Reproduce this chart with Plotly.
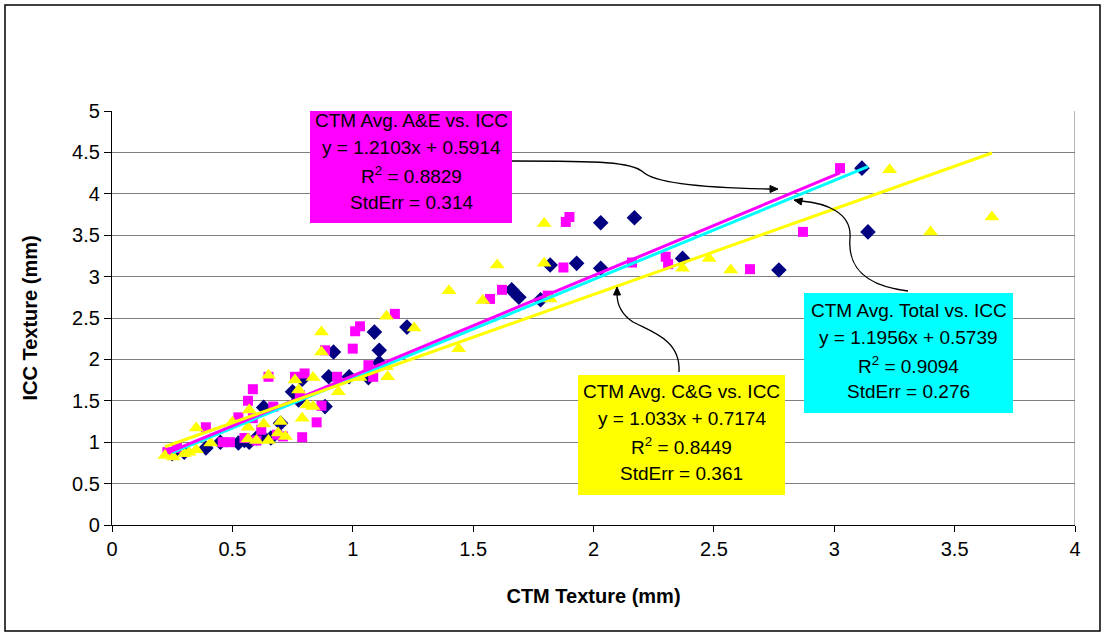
import math
import plotly.graph_objects as go

# ---------------- data ----------------
# CTM Avg. Total vs. ICC (navy diamonds, cyan trendline)
total_x = [0.25, 0.30, 0.39, 0.45, 0.525, 0.55, 0.57, 0.60, 0.62, 0.63, 0.66, 0.70, 0.75, 0.775, 0.79,
           0.885, 0.90, 0.92, 0.985, 1.065, 1.09, 1.11, 1.11, 1.225, 1.66, 1.69, 1.78, 1.82, 1.93,
           2.03, 2.03, 2.17, 2.37, 2.77, 3.115, 3.14]
total_y = [0.86, 0.88, 0.93, 1.00, 0.99, 1.02, 1.00, 1.05, 1.08, 1.42, 1.05, 1.23, 1.61, 1.51, 1.76,
           1.43, 1.79, 2.09, 1.79, 1.78, 2.33, 2.11, 1.96, 2.39, 2.84, 2.75, 2.72, 3.14, 3.16,
           3.10, 3.65, 3.71, 3.22, 3.08, 4.31, 3.54]

# CTM Avg. A&E vs. ICC (magenta squares, magenta trendline)
ae_x = [0.23, 0.27, 0.39, 0.46, 0.49, 0.525, 0.55, 0.565, 0.585, 0.585, 0.60, 0.62, 0.65, 0.67,
        0.685, 0.71, 0.76, 0.78, 0.79, 0.80, 0.85, 0.87, 0.885, 0.935, 1.00, 1.01, 1.03, 1.065,
        1.085, 1.175, 1.57, 1.62, 1.81, 1.875, 1.885, 1.90, 2.16, 2.30, 2.31, 2.65, 2.87, 3.024]
ae_y = [0.88, 0.93, 1.18, 1.00, 1.00, 1.30, 1.05, 1.50, 1.64, 1.29, 1.02, 1.15, 1.79, 1.43,
        1.09, 1.07, 1.79, 1.57, 1.06, 1.83, 1.24, 1.44, 2.11, 1.79, 2.13, 2.34, 2.40, 1.93,
        1.79, 2.55, 2.73, 2.84, 2.77, 3.11, 3.66, 3.72, 3.17, 3.24, 3.15, 3.09, 3.54, 4.31]

# CTM Avg. C&G vs. ICC (yellow triangles, yellow trendline)
cg_x = [0.22, 0.255, 0.30, 0.32, 0.35, 0.35, 0.41, 0.50, 0.565, 0.565, 0.57, 0.60, 0.63, 0.65,
        0.65, 0.69, 0.70, 0.72, 0.76, 0.775, 0.79, 0.81, 0.835, 0.835, 0.87, 0.87, 0.94, 1.03,
        1.14, 1.145, 1.14, 1.255, 1.40, 1.44, 1.54, 1.60, 1.795, 1.795, 1.82, 2.37, 2.48, 2.57,
        3.23, 3.40, 3.655]
cg_y = [0.84, 0.82, 0.86, 0.88, 0.91, 1.17, 0.99, 1.24, 1.18, 1.04, 1.39, 1.02, 1.22, 1.02,
        1.81, 1.11, 1.25, 1.07, 1.75, 1.63, 1.29, 1.45, 1.43, 1.78, 2.33, 2.09, 1.61, 1.78,
        1.91, 1.79, 2.52, 2.38, 2.83, 2.13, 2.71, 3.14, 3.64, 3.16, 2.73, 3.10, 3.22, 3.08,
        4.29, 3.54, 3.72]

# trendline equations (from the chart's labels)
total_slope, total_intercept = 1.1956, 0.5739
ae_slope, ae_intercept = 1.2103, 0.5914
cg_slope, cg_intercept = 1.033, 0.7174

x_tick_vals = [0, 0.5, 1, 1.5, 2, 2.5, 3, 3.5, 4]
x_tick_text = ["0", "0.5", "1", "1.5", "2", "2.5", "3", "3.5", "4"]
y_tick_vals = [0, 0.5, 1, 1.5, 2, 2.5, 3, 3.5, 4, 4.5, 5]
y_tick_text = ["0", "0.5", "1", "1.5", "2", "2.5", "3", "3.5", "4", "4.5", "5"]

ae_label = ["CTM Avg. A&E vs. ICC", "y = 1.2103x + 0.5914", "R<sup>2</sup> = 0.8829", "StdErr = 0.314"]
total_label = ["CTM Avg. Total vs. ICC", "y = 1.1956x + 0.5739", "R<sup>2</sup> = 0.9094", "StdErr = 0.276"]
cg_label = ["CTM Avg. C&G vs. ICC", "y = 1.033x + 0.7174", "R<sup>2</sup> = 0.8449", "StdErr = 0.361"]

# ---------------- layout geometry ----------------
W, H = 1104, 633
L, R, T, B = 112, 1075, 111, 525
FONT = "Liberation Sans, Arial, sans-serif"


def dx(px):
    return (px - L) / (R - L) * 4.0


def dy(py):
    return (B - py) / (B - T) * 5.0


def px_x(px):
    return (px - L) / (R - L)


def px_y(py):
    return (B - py) / (B - T)


fig = go.Figure()

fig.add_trace(go.Scatter(x=total_x, y=total_y, mode="markers", name="Total",
                         marker=dict(symbol="diamond", size=12, color="#000080", line=dict(width=0))))
fig.add_trace(go.Scatter(x=ae_x, y=ae_y, mode="markers", name="A&E",
                         marker=dict(symbol="square", size=10, color="#FF00FF", line=dict(width=0))))
fig.add_trace(go.Scatter(x=cg_x, y=cg_y, mode="markers", name="C&G",
                         marker=dict(symbol="triangle-up", size=13, color="#FFFF00", line=dict(width=0))))


def trend(xs, m, b):
    x0, x1 = min(xs), max(xs)
    return [x0, x1], [m * x0 + b, m * x1 + b]


for xs, m, b, col in [(total_x, total_slope, total_intercept, "#00FFFF"),
                      (ae_x, ae_slope, ae_intercept, "#FF00FF"),
                      (cg_x, cg_slope, cg_intercept, "#FFFF00")]:
    tx, ty = trend(xs, m, b)
    fig.add_trace(go.Scatter(x=tx, y=ty, mode="lines", line=dict(color=col, width=3),
                             hoverinfo="skip"))

shapes = []
# outer chart frame
shapes.append(dict(type="rect", xref="paper", yref="paper",
                   x0=px_x(5), x1=px_x(1100), y0=px_y(631), y1=px_y(5),
                   line=dict(color="black", width=1.5), fillcolor="rgba(0,0,0,0)", layer="below"))
# plot-area right border
shapes.append(dict(type="line", xref="x", yref="y", x0=4, x1=4, y0=0, y1=5,
                   line=dict(color="#888888", width=1.2), layer="below"))

# label boxes (pixel boxes)
boxes = [((310, 104, 512, 223), "#FF00FF", ae_label, [120, 147, 175, 202]),
         ((804, 293, 1013, 413), "#00FFFF", total_label, [310, 337, 365, 391]),
         ((578, 375, 785, 495), "#FFFF00", cg_label, [391, 418, 446, 473])]

annotations = []
for (x0, y0, x1, y1), col, lines, centers in boxes:
    shapes.append(dict(type="rect", xref="x", yref="y", x0=dx(x0), x1=dx(x1), y0=dy(y1), y1=dy(y0),
                       fillcolor=col, line=dict(width=0), layer="above"))
    cx = (x0 + x1) / 2
    for txt, cy in zip(lines, centers):
        annotations.append(dict(x=dx(cx), y=dy(cy), xref="x", yref="y", text=txt, showarrow=False,
                                xanchor="center", yanchor="middle",
                                font=dict(family=FONT, size=19, color="black")))


def path(points):
    (sx, sy) = points[0]
    s = f"M {dx(sx)},{dy(sy)}"
    rest = points[1:]
    for i in range(0, len(rest), 3):
        a, b2, c = rest[i:i + 3]
        s += f" C {dx(a[0])},{dy(a[1])} {dx(b2[0])},{dy(b2[1])} {dx(c[0])},{dy(c[1])}"
    return s


curves = [
    [(512, 161), (600, 161), (632, 162), (643, 172), (656, 184), (710, 188), (770, 189)],
    [(908, 291), (858, 285), (848, 262), (850, 238), (852, 212), (825, 203), (801, 201)],
    [(679, 372), (681, 340), (652, 332), (633, 322), (618, 312), (617, 300), (617, 294)],
]
for c in curves:
    shapes.append(dict(type="path", xref="x", yref="y", path=path(c),
                       line=dict(color="black", width=1.3), layer="above"))

# arrowheads as small filled triangles (tip, direction from tail)
for (tx, ty), (fx, fy) in [((778, 189), (768, 189)), ((794, 200), (804, 202)), ((617, 287), (617, 297))]:
    ux, uy = tx - fx, ty - fy
    n = math.hypot(ux, uy)
    ux, uy = ux / n, uy / n
    bx, by = tx - 8 * ux, ty - 8 * uy
    px_, py_ = -uy * 3.5, ux * 3.5
    pts = [(tx, ty), (bx + px_, by + py_), (bx - px_, by - py_)]
    p = "M " + " L ".join(f"{dx(a)},{dy(b)}" for a, b in pts) + " Z"
    shapes.append(dict(type="path", xref="x", yref="y", path=p, fillcolor="black",
                       line=dict(color="black", width=1), layer="above"))

fig.update_layout(
    width=W, height=H,
    margin=dict(l=L, r=W - R, t=T, b=H - B, pad=0),
    paper_bgcolor="white", plot_bgcolor="white",
    showlegend=False,
    font=dict(family=FONT, size=19, color="black"),
    shapes=shapes, annotations=annotations,
    xaxis=dict(range=[0, 4], tickvals=x_tick_vals, ticktext=x_tick_text, showgrid=False,
               zeroline=False, showline=True, linecolor="black", linewidth=1.3,
               ticks="outside", ticklen=6, tickcolor="black", tickwidth=1.2,
               tickfont=dict(family=FONT, size=20, color="black"),
               title=dict(text="<b>CTM Texture (mm)</b>", standoff=29,
                          font=dict(family=FONT, size=20, color="black"))),
    yaxis=dict(range=[0, 5], tickvals=y_tick_vals, ticktext=y_tick_text, showgrid=True,
               gridcolor="#808080", gridwidth=1.3, zeroline=False, showline=True,
               linecolor="black", linewidth=1.3, ticks="outside", ticklen=7, tickcolor="black",
               tickwidth=1.2, tickfont=dict(family=FONT, size=20, color="black"),
               title=dict(text="<b>ICC Texture (mm)</b>", standoff=29,
                          font=dict(family=FONT, size=20, color="black"))),
)

fig.write_html("out.html")
